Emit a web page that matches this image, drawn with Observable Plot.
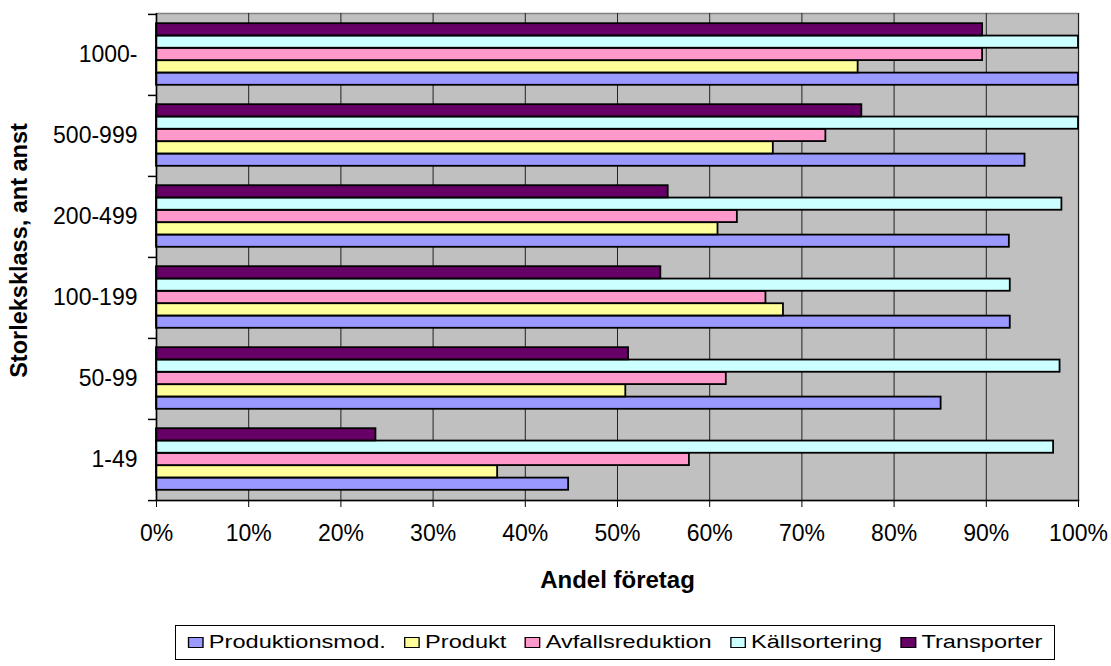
<!DOCTYPE html>
<html><head><meta charset="utf-8">
<script src="https://cdn.jsdelivr.net/npm/d3@7"></script>
<script src="https://cdn.jsdelivr.net/npm/@observablehq/plot@0.6"></script>
<style>
body{margin:0;background:#fff;font-family:"Liberation Sans",Arial,sans-serif;}
#wrap{position:relative;width:1111px;height:666px;}
#legend{position:absolute;left:175px;top:625px;width:880px;height:35px;border:1px solid #000;box-sizing:border-box;display:flex;align-items:center;justify-content:center;overflow:hidden;background:#fff}
#legend .inner{display:flex;align-items:center;transform:scaleX(1.31);white-space:nowrap;font-size:18px;color:#000}
.sw{display:inline-block;width:10px;height:9px;border:1px solid #000;margin-right:4px}
.item{display:flex;align-items:center;margin:0 7px}
</style></head>
<body><div id="wrap"><div id="chart"></div><div id="legend"><div class="inner"></div></div></div>
<script>
const categories = ["1-49","50-99","100-199","200-499","500-999","1000-"];
const series = ["Produktionsmod.","Produkt","Avfallsreduktion","Källsortering","Transporter"];
const colors = ["#9999FF","#FFFF99","#FF99CC","#CCFFFF","#660066"];
const produktionsmod = [44.7, 85.1, 92.6, 92.5, 94.2, 100];
const produkt        = [37.0, 50.9, 68.0, 60.9, 66.9, 76.1];
const avfall         = [57.8, 61.8, 66.1, 63.0, 72.6, 89.6];
const kallsortering  = [97.3, 98.0, 92.6, 98.2, 100, 100];
const transporter    = [23.8, 51.2, 54.7, 55.5, 76.5, 89.6];
const xTicks = [0,10,20,30,40,50,60,70,80,90,100];
const xTitle = "Andel företag";
const yTitle = "Storleksklass, ant anst";

const seriesValues = [produktionsmod, produkt, avfall, kallsortering, transporter];
const rows = [];
series.forEach((s, si) => categories.forEach((c, ci) => rows.push({series: s, cat: c, value: seriesValues[si][ci]})));

const W = 1111, H = 600, mT = 13, mB = 100, mL = 156, mR = 33;
const bw = (H - mT - mB) / categories.length;
const topGap = 9.2, barH = 12.35;

const barMarks = series.map((s, si) => {
  const pos = series.length - 1 - si; // Transporter on top
  const insetTop = topGap + pos * barH;
  return Plot.barX(rows.filter(r => r.series === s), {
    x: "value", y: "cat", fill: colors[si], stroke: "#000", strokeWidth: 1.8,
    insetTop, insetBottom: bw - insetTop - barH
  });
});

const chart = Plot.plot({
  width: W, height: H, marginTop: mT, marginBottom: mB, marginLeft: mL, marginRight: mR,
  style: {fontFamily: "'Liberation Sans', Arial, sans-serif", fontSize: "23px", color: "#000", background: "#fff"},
  x: {domain: [0, 100], ticks: xTicks, tickFormat: d => d + "%"},
  y: {domain: categories.slice().reverse(), padding: 0},
  marks: [
    Plot.frame({fill: "#C0C0C0", stroke: "#808080", strokeWidth: 1.5}),
    Plot.gridX({ticks: xTicks, stroke: "#222", strokeOpacity: 1, strokeWidth: 1}),
    ...barMarks,
    Plot.ruleX([0], {stroke: "#000", strokeWidth: 1.5}),
    Plot.frame({anchor: "bottom", stroke: "#000", strokeWidth: 1.5}),
    Plot.ruleY(categories, {dy: -bw / 2, insetLeft: -8, insetRight: W - mL - mR, stroke: "#000", strokeWidth: 1.5}),
    Plot.ruleY([categories[0]], {dy: bw / 2, insetLeft: -8, insetRight: W - mL - mR, stroke: "#000", strokeWidth: 1.5}),
    Plot.axisX({ticks: xTicks, tickFormat: d => d + "%", tickSize: 7, tickPadding: 17, label: null, fontSize: 23, stroke: "#000"}),
    Plot.axisY({tickSize: 0, tickPadding: 19, label: null, fontSize: 23}),
    Plot.text([xTitle], {frameAnchor: "bottom", lineAnchor: "bottom", dy: 87, fontWeight: "bold", fontSize: 24, fill: "#000"}),
    Plot.text([yTitle], {frameAnchor: "left", textAnchor: "middle", lineAnchor: "middle", dx: -137.5, dy: -6.5, rotate: -90, fontWeight: "bold", fontSize: 23.5, fill: "#000"})
  ]
});
document.getElementById("chart").appendChild(chart);

const inner = document.querySelector("#legend .inner");
series.forEach((s, i) => {
  const item = document.createElement("span");
  item.className = "item";
  const sw = document.createElement("span");
  sw.className = "sw";
  sw.style.background = colors[i];
  item.appendChild(sw);
  item.appendChild(document.createTextNode(s));
  inner.appendChild(item);
});
</script></body></html>
